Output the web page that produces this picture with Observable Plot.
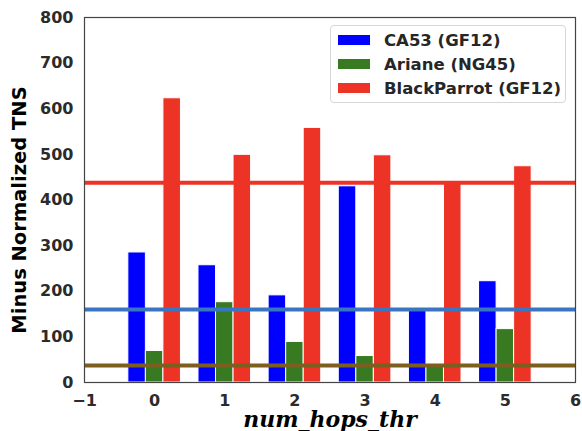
<!DOCTYPE html>
<html><head><meta charset="utf-8">
<script src="https://cdn.jsdelivr.net/npm/d3@7"></script>
<script src="https://cdn.jsdelivr.net/npm/@observablehq/plot@0.6"></script>
<style>
body{margin:0;background:#fff;}
#wrap{position:relative;width:582px;height:431px;overflow:hidden;background:#fff;}
#legend{position:absolute;left:330px;top:25px;width:234px;height:76px;border:1px solid #d6d6d6;border-radius:4px;background:rgba(255,255,255,0.85);box-sizing:content-box;}
.row{position:absolute;left:7px;height:24px;display:flex;align-items:center;font-family:"DejaVu Sans";font-weight:bold;font-size:16.5px;color:#262626;white-space:nowrap;}
.sw{width:32px;height:10px;margin-right:14px;}
</style></head><body><div id="wrap"></div><script>
const hops = [0, 1, 2, 3, 4, 5];
const seriesNames = ["CA53 (GF12)", "Ariane (NG45)", "BlackParrot (GF12)"];
const ca53 = [285, 257, 191, 430, 158, 222];
const ariane = [69, 176, 89, 58, 38, 117];
const blackparrot = [623, 499, 558, 498, 437, 474];
const refValues = [160, 37, 438];
const barColors = ["#0000ff", "#377a22", "#ec3325"];
const lineColors = ["#3a75c2", "#7c5e1f", "#ec3325"];
const xTicks = [-1, 0, 1, 2, 3, 4, 5, 6];
const yTicks = [0, 100, 200, 300, 400, 500, 600, 700, 800];
const xLabel = "num_hops_thr";
const yLabel = "Minus Normalized TNS";

const seriesValues = [ca53, ariane, blackparrot];
const barWidth = 0.25;
const offsets = [-0.25, 0, 0.25];
const rows = [];
seriesValues.forEach((vals, si) => {
  vals.forEach((v, i) => rows.push({series: seriesNames[si], si, x1: hops[i] + offsets[si] - barWidth / 2, x2: hops[i] + offsets[si] + barWidth / 2, y: v}));
});
const refs = refValues.map((v, i) => ({v, c: lineColors[i]}));
const fmt = d3.format("d");

const chart = Plot.plot({
  width: 582, height: 431,
  marginLeft: 84, marginRight: 7, marginTop: 17, marginBottom: 49,
  style: {fontFamily: "DejaVu Sans", fontWeight: "bold", fontSize: "16px", color: "#2b2b2b", background: "#fff", overflow: "visible"},
  x: {domain: [-1, 6], ticks: xTicks, tickFormat: fmt, tickSize: 0, tickPadding: 12, label: null},
  y: {domain: [0, 800], ticks: yTicks, tickFormat: fmt, tickSize: 0, tickPadding: 11, label: null},
  color: {domain: seriesNames, range: barColors},
  marks: [
    Plot.rectY(rows, {x1: "x1", x2: "x2", y: "y", fill: "series", stroke: "white", strokeWidth: 1}),
    Plot.ruleY(refs, {y: "v", stroke: "c", strokeWidth: 4}),
    Plot.frame({stroke: "#444", strokeWidth: 1.2}),
    Plot.text([yLabel], {frameAnchor: "left", textAnchor: "middle", lineAnchor: "middle", dx: -65, dy: 10, rotate: -90, fontSize: 19.5, fontWeight: "bold", fill: "black", fontFamily: "DejaVu Sans"}),
    Plot.text([xLabel], {frameAnchor: "bottom", textAnchor: "middle", lineAnchor: "bottom", dy: 44, fontSize: 22, fontWeight: "bold", fontStyle: "italic", fill: "black", fontFamily: "DejaVu Serif"})
  ]
});
const wrap = document.getElementById("wrap");
wrap.appendChild(chart);
const leg = document.createElement("div");
leg.id = "legend";
seriesNames.forEach((n, i) => {
  const r = document.createElement("div");
  r.className = "row";
  r.style.top = (2 + i * 24) + "px";
  const sw = document.createElement("span");
  sw.className = "sw"; sw.style.background = barColors[i];
  const t = document.createElement("span"); t.textContent = n;
  r.appendChild(sw); r.appendChild(t);
  leg.appendChild(r);
});
wrap.appendChild(leg);
</script></body></html>
